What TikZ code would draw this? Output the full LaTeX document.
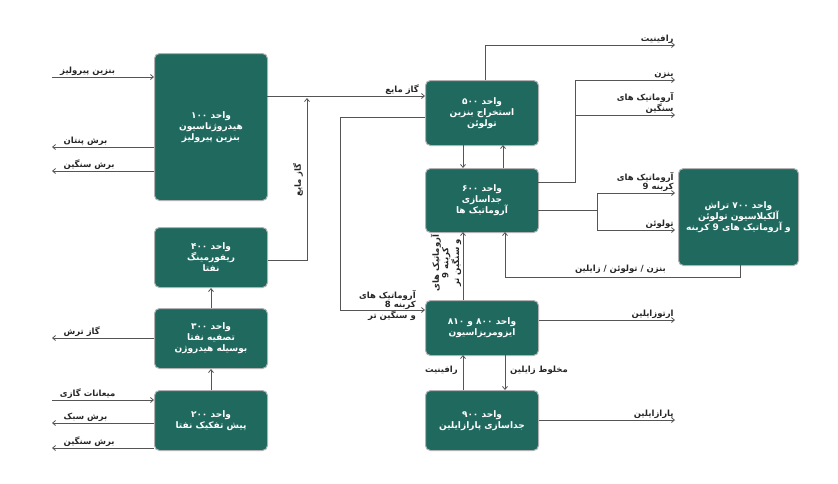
\documentclass[tikz,border=0pt]{standalone}
\usepackage{fontspec}
\usetikzlibrary{arrows.meta}
\newfontfamily\fa[Script=Arabic]{DejaVu Sans}
\TeXXeTstate=1
\newcommand{\RR}[1]{\beginR #1\endR}
\definecolor{unitfill}{HTML}{20695F}
\definecolor{lnc}{HTML}{555555}
\tikzset{
  unit/.style={draw=gray!60, line width=1pt, fill=unitfill, rounded corners=5pt, text=white,
     font=\fa\bfseries\fontsize{9}{11}\selectfont, align=center, anchor=north west, inner sep=0pt},
  flow/.style={draw=lnc, line width=0.8pt, -{Straight Barb[length=3pt,width=5pt]}},
  plain/.style={draw=lnc, line width=0.8pt},
  lab/.style={font=\fa\bfseries\fontsize{8.5}{9.5}\selectfont, text=black!85, inner sep=1pt, align=right}
}
\newcommand{\unitbox}[6]{\node[unit, minimum width=#4pt, minimum height=#5pt] (#1) at (#2,#3) {#6};}
\begin{document}
\begin{tikzpicture}[x=1pt,y=-1pt]
\useasboundingbox (0,0) rectangle (838,483);
\unitbox{u1}{154}{53}{113}{147}{\RR{واحد ۱۰۰}\\\RR{هیدروژناسیون}\\\RR{بنزین پیرولیز}}
\unitbox{u4}{154}{227}{113}{60}{\RR{واحد ۴۰۰}\\\RR{ریفورمینگ}\\\RR{نفتا}}
\unitbox{u3}{154}{308}{113}{60}{\RR{واحد ۳۰۰}\\\RR{تصفیه نفتا}\\\RR{بوسیله هیدروژن}}
\unitbox{u2}{154}{390}{113}{60}{\RR{واحد ۲۰۰}\\\RR{پیش تفکیک نفتا}}
\unitbox{u5}{425}{80}{113}{65}{\RR{واحد ۵۰۰}\\\RR{استخراج بنزین}\\\RR{تولوئن}}
\unitbox{u6}{425}{168}{113}{64}{\RR{واحد ۶۰۰}\\\RR{جداسازی}\\\RR{آروماتیک ها}}
\unitbox{u7}{678}{168}{120}{97}{\RR{واحد ۷۰۰ تراش}\\\RR{آلکیلاسیون تولوئن}\\\RR{و آروماتیک های 9 کربنه}}
\unitbox{u8}{425}{300}{113}{55}{\RR{واحد ۸۰۰ و ۸۱۰}\\\RR{ایزومریزاسیون}}
\unitbox{u9}{425}{390}{113}{60}{\RR{واحد ۹۰۰}\\\RR{جداسازی پارازایلین}}

% left side
\coordinate (i1) at (52,77);
\draw[flow] (i1) -- (i1 -| u1.west) node[lab, above, pos=0.35] {\RR{بنزین پیرولیز}};
\coordinate (o1) at (52,147); \coordinate (o2) at (52,171);
\draw[flow] (o1 -| u1.west) -- (o1) node[lab, above right, pos=0.9] {\RR{برش پنتان}};
\draw[flow] (o2 -| u1.west) -- (o2) node[lab, above right, pos=0.9] {\RR{برش سنگین}};
\coordinate (o3) at (52,338);
\draw[flow] (o3 -| u3.west) -- (o3) node[lab, above right, pos=0.9] {\RR{گاز ترش}};
\coordinate (i2) at (52,400);
\draw[flow] (i2) -- (i2 -| u2.west) node[lab, above, pos=0.35] {\RR{میعانات گازی}};
\coordinate (o4) at (52,423); \coordinate (o5) at (52,448);
\draw[flow] (o4 -| u2.west) -- (o4) node[lab, above right, pos=0.9] {\RR{برش سبک}};
\draw[flow] (o5 -| u2.west) -- (o5) node[lab, above right, pos=0.9] {\RR{برش سنگین}};
\draw[flow] (u2.north) -- (u3.south);
\draw[flow] (u3.north) -- (u4.south);

% gas to U5
\coordinate (g1) at (267,96);
\draw[flow] (g1) -- (g1 -| u5.west) node[lab, above left, pos=0.97] {\RR{گاز مایع}};
\coordinate (g2) at (307,260); \coordinate (g3) at (307,98);
\draw[flow] (g2 -| u4.east) -- (g2) -- (g3);
\node[lab, rotate=90] (gl) at (298,180) {\RR{گاز مایع}};

% U5 -> U8 loop
\coordinate (a1) at (425,117); \coordinate (a2) at (340,117); \coordinate (a3) at (340,310);
\draw[flow] (a1) -- (a2) -- (a3) -- (a3 -| u8.west);
\node[lab, anchor=south east] (al) at (417,322) {\RR{آروماتیک های}\\\RR{کربنه 8}\\\RR{و سنگین تر}};

% U5 <-> U6
\draw[flow] (463,145) -- (463,168);
\draw[flow] (503,168) -- (503,145);
% raffinate top
\coordinate (r1) at (485,80); \coordinate (r2) at (485,45); \coordinate (r3) at (675,45);
\draw[flow] (r1) -- (r2) -- (r3) node[lab, above left, pos=1] {\RR{رافینیت}};
% U6 -> benzene / heavy
\coordinate (b0) at (538,182); \coordinate (b1) at (575,182); \coordinate (b2) at (575,80);
\coordinate (b3) at (675,80); \coordinate (b4) at (575,115); \coordinate (b5) at (675,115);
\draw[flow] (b0) -- (b1) -- (b2) -- (b3) node[lab, above left, pos=1] {\RR{بنزن}};
\draw[flow] (b4) -- (b5) node[lab, above left, pos=1] {\RR{آروماتیک های}\\\RR{سنگین}};
% U6 -> U7
\coordinate (c0) at (538,210); \coordinate (c1) at (597,210); \coordinate (c2) at (597,193);
\coordinate (c3) at (675,193); \coordinate (c4) at (597,230); \coordinate (c5) at (675,230);
\draw[plain] (c0) -- (c1);
\draw[flow] (c1) -- (c2) -- (c3) node[lab, above left, pos=1] {\RR{آروماتیک های}\\\RR{کربنه 9}};
\draw[flow] (c1) -- (c4) -- (c5) node[lab, above left, pos=1] {\RR{تولوئن}};
% U7 -> U6 return
\coordinate (d1) at (740,265); \coordinate (d2) at (740,277); \coordinate (d3) at (505,277);
\draw[flow] (d1) -- (d2) -- (d3) -- (505,232);
\node[lab, anchor=south east] (dl) at (667,275) {\RR{بنزن / تولوئن / زایلین}};
% U8 -> U6
\draw[flow] (463,300) -- (463,232);
\node[lab, rotate=90, align=center, anchor=center] (vl) at (446,263) {\RR{آروماتیک های}\\\RR{کربنه 9}\\\RR{و سنگین تر}};
% U8 outputs
\coordinate (e1) at (675,320);
\draw[flow] (e1 -| u8.east) -- (e1) node[lab, above left, pos=1] {\RR{ارتوزایلین}};
\draw[flow] (505,355) -- (505,390);
\node[lab, anchor=west] (ml) at (509,370) {\RR{مخلوط زایلین}};
\draw[flow] (463,390) -- (463,355);
\node[lab, anchor=east] (rl) at (459,370) {\RR{رافینیت}};
\coordinate (f1) at (675,420);
\draw[flow] (f1 -| u9.east) -- (f1) node[lab, above left, pos=1] {\RR{پارازایلین}};
\end{tikzpicture}
\end{document}
